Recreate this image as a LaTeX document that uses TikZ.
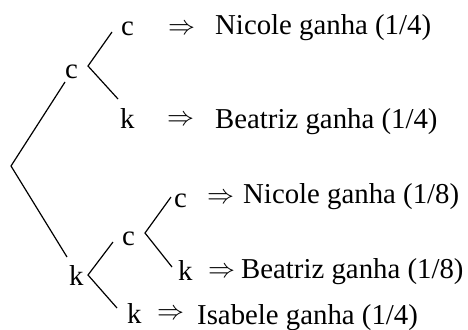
\documentclass[tikz,border=0pt]{standalone}
\usepackage{fontspec}
\setmainfont{Liberation Serif}
\newcommand{\bigimp}{\resizebox{27pt}{!}{$\Rightarrow$}}
\begin{document}
\begin{tikzpicture}[x=1pt,y=-1pt,
  lbl/.style={anchor=base west,inner sep=0pt,font=\fontsize{28.8}{34}\selectfont},
  edge/.style={line width=1.2pt,line join=miter}]
\useasboundingbox (0,0) rectangle (468,329);
% letters
\node[lbl] (cm) at (65,78) {c};
\node[lbl] (c1) at (121,36) {c};
\node[lbl] (k1) at (120,128) {k};
\node[lbl] (k2) at (69,285) {k};
\node[lbl] (c2) at (122,245) {c};
\node[lbl] (c3) at (174,207) {c};
\node[lbl] (k3) at (178,280) {k};
\node[lbl] (k4) at (127,323) {k};
% arrows
\node[lbl] (a1) at (168,35) {\bigimp};
\node[lbl] (a2) at (167,125) {\bigimp};
\node[lbl] (a3) at (207,203) {\bigimp};
\node[lbl] (a4) at (208,277) {\bigimp};
\node[lbl] (a5) at (157,319) {\bigimp};
% results
\node[lbl] (t1) at (215,35) {Nicole ganha (1/4)};
\node[lbl] (t2) at (215,128) {Beatriz ganha (1/4)};
\node[lbl] (t3) at (243,203) {Nicole ganha (1/8)};
\node[lbl] (t4) at (241,278) {Beatriz ganha (1/8)};
\node[lbl] (t5) at (197,324) {Isabele ganha (1/4)};
% connector points
\coordinate (root) at (11,166);
\coordinate (r1) at (65,82);
\coordinate (r2) at (67,257);
\coordinate (f1) at (88,66);
\coordinate (e1) at (112,32);
\coordinate (e2) at (118,99);
\coordinate (f2) at (88,275);
\coordinate (g1) at (113,242);
\coordinate (g2) at (117,308);
\coordinate (f3) at (145,233);
\coordinate (h1) at (171,197);
\coordinate (h2) at (172,267);
% connectors
\draw[edge] (r1) -- (root) -- (r2);
\draw[edge] (e1) -- (f1) -- (e2);
\draw[edge] (g1) -- (f2) -- (g2);
\draw[edge] (h1) -- (f3) -- (h2);
\end{tikzpicture}
\end{document}
